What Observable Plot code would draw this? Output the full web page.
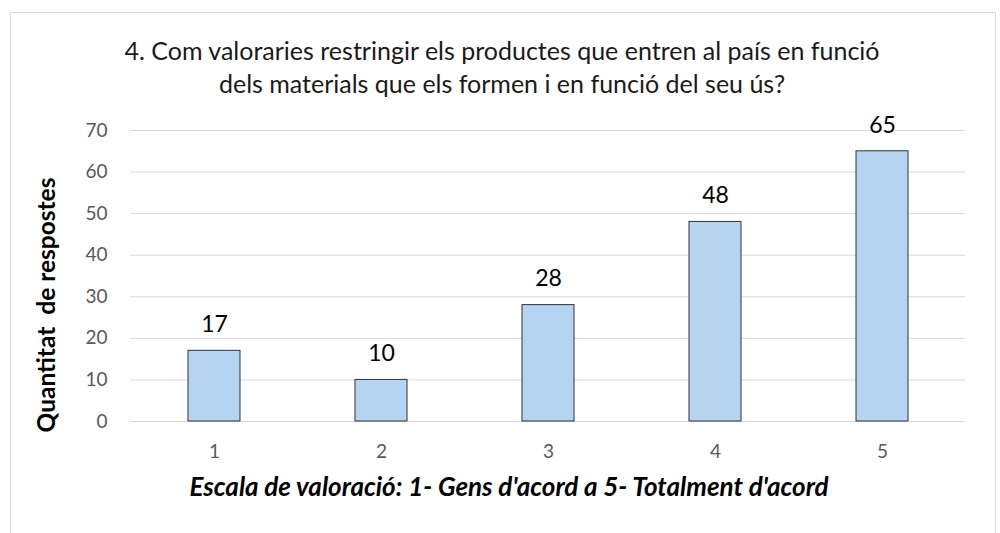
<!DOCTYPE html>
<html><head><meta charset="utf-8">
<script src="https://cdn.jsdelivr.net/npm/d3@7"></script>
<script src="https://cdn.jsdelivr.net/npm/@observablehq/plot@0.6"></script>
<style>
body{margin:0;background:#fff;}
#wrap{position:relative;width:1000px;height:533px;overflow:hidden;}
#frame{position:absolute;left:10px;top:12px;width:986px;height:540px;border:1px solid #d9d9d9;box-sizing:border-box;}
#chart{position:absolute;left:0;top:0;}
</style></head>
<body>
<div id="wrap"><div id="frame"></div><div id="chart"></div></div>
<script>
const categories = ["1", "2", "3", "4", "5"];
const values = [17, 10, 28, 48, 65];
const yTicks = [0, 10, 20, 30, 40, 50, 60, 70];
const titleText = "4. Com valoraries restringir els productes que entren al país en funció\ndels materials que els formen i en funció del seu ús?";
const yTitle = "Quantitat  de respostes";
const xTitle = "Escala de valoració: 1- Gens d'acord a 5- Totalment d'acord";

const data = categories.map((c, i) => ({cat: c, value: values[i]}));

const chart = Plot.plot({
  width: 1000, height: 533,
  marginLeft: 130, marginRight: 35, marginTop: 130, marginBottom: 112,
  style: {fontFamily: "Lato, 'Open Sans', sans-serif", fontSize: "19px", color: "#595959", background: "transparent", overflow: "visible"},
  x: {domain: categories, paddingInner: 0.69, paddingOuter: 0.345},
  y: {domain: [0, 70]},
  marks: [
    Plot.gridY(yTicks, {stroke: "#d9d9d9", strokeOpacity: 1, strokeWidth: 1}),
    Plot.axisY(yTicks, {tickSize: 0, tickPadding: 23, label: null, fill: "#595959", fontSize: 19}),
    Plot.axisX({tickSize: 0, tickPadding: 23, label: null, fill: "#595959", fontSize: 19}),
    Plot.barY(data, {x: "cat", y: "value", fill: "#b4d4f2", stroke: "#333", strokeWidth: 1}),
    Plot.text(data, {x: "cat", y: "value", text: d => String(d.value), dy: -26, fontSize: 23, fill: "#000"}),
    Plot.text([titleText], {frameAnchor: "top", dx: -46, dy: -64.5, lineHeight: 1.32, fontSize: 25, fill: "#1a1a1a", lineAnchor: "middle"}),
    Plot.text([yTitle], {frameAnchor: "left", textAnchor: "middle", dx: -83, dy: 29, rotate: -90, fontSize: 24.5, fontWeight: "bold", fill: "#000"}),
    Plot.text([xTitle], {frameAnchor: "bottom", dx: -39, dy: 74, fontSize: 26, fontWeight: "bold", fontStyle: "italic", fill: "#000"})
  ]
});
document.getElementById("chart").appendChild(chart);
</script>
</body></html>
